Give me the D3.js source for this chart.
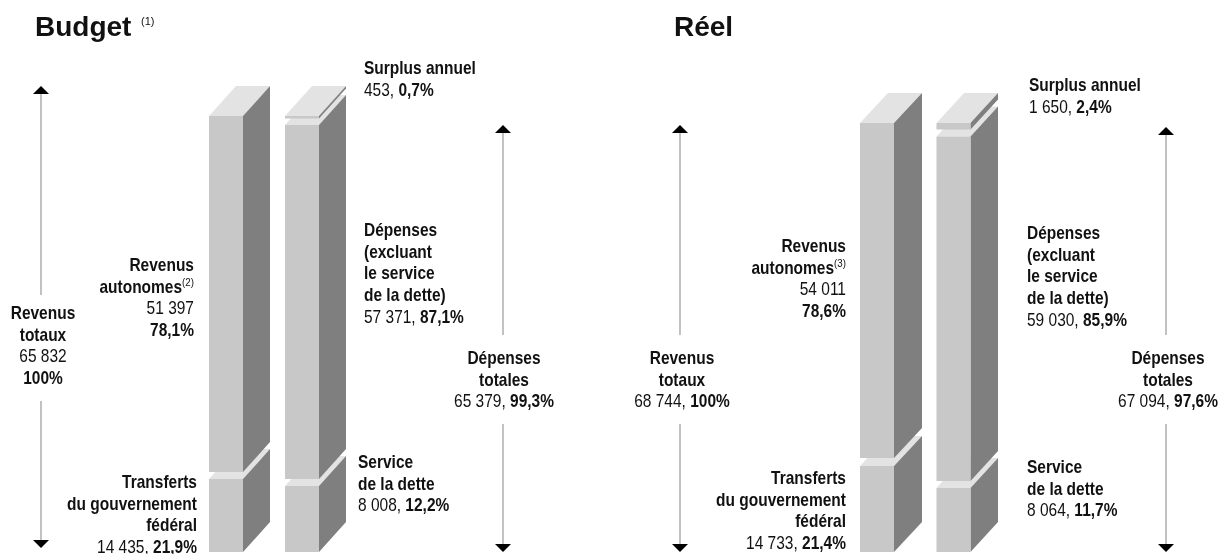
<!DOCTYPE html>
<html><head><meta charset="utf-8">
<style>html,body{margin:0;background:#fff}svg{display:block;filter:blur(0.3px)}text{font-family:"Liberation Sans",Arial,sans-serif;fill:#111}</style>
<script src="https://cdn.jsdelivr.net/npm/d3@7"></script></head><body>
<script>
// ---- data
const panels = ["Budget", "Réel"];
const budgetRevenueValues = [14435, 51397];
const budgetRevenueShares = [21.9, 78.1];
const budgetSpendingValues = [8008, 57371, 453];
const budgetSpendingShares = [12.2, 87.1, 0.7];
const realRevenueValues = [14733, 54011];
const realRevenueShares = [21.4, 78.6];
const realSpendingValues = [8064, 59030, 1650];
const realSpendingShares = [11.7, 85.9, 2.4];
const totals = {budgetRevenue: 65832, budgetSpending: 65379, budgetSpendingShare: 99.3, realRevenue: 68744, realSpending: 67094, realSpendingShare: 97.6};

// ---- layout: the source drawing is not to a common scale, so each block has its own pixel span
const W = 1221, H = 554;
const svg = d3.select("body").append("svg").attr("width", W).attr("height", H);
const colors = {front: "#c8c8c8", side: "#7f7f7f", top: "#e3e3e3"};
const stacks = [
  {x: 209, w: 34, dx: 27, dy: 30, values: budgetRevenueValues, spans: [[552, 479], [472, 116]]},
  {x: 285, w: 34, dx: 27, dy: 30, values: budgetSpendingValues, spans: [[552, 486], [479, 125], [118.5, 116]]},
  {x: 860, w: 34, dx: 28, dy: 30, values: realRevenueValues, spans: [[552, 466], [458, 123]]},
  {x: 936.5, w: 34, dx: 27.5, dy: 30, values: realSpendingValues, spans: [[552, 488], [481, 136.5], [129.5, 123]]}
];
const poly = pts => pts.map(p => p.join(",")).join(" ");
stacks.forEach(s => {
  s.values.forEach((v, i) => {
    const y = d3.scaleLinear().domain([0, v]).range(s.spans[i]);
    const b = y(0), t = y(v), r = s.x + s.w;
    const g = svg.append("g");
    g.append("polygon").attr("points", poly([[s.x, t], [r, t], [r + s.dx, t - s.dy], [s.x + s.dx, t - s.dy]])).attr("fill", colors.top);
    g.append("polygon").attr("points", poly([[r, t], [r + s.dx, t - s.dy], [r + s.dx, b - s.dy], [r, b]])).attr("fill", colors.side);
    g.append("rect").attr("x", s.x).attr("y", t).attr("width", s.w).attr("height", b - t).attr("fill", colors.front);
  });
});

// ---- arrows
const arrows = [
  {x: 41, top: 86, upEnd: 295, downStart: 401, bottom: 548},
  {x: 503, top: 125, upEnd: 335, downStart: 424, bottom: 552},
  {x: 680, top: 125, upEnd: 335, downStart: 424, bottom: 552},
  {x: 1166, top: 127, upEnd: 335, downStart: 424, bottom: 552}
];
arrows.forEach(a => {
  svg.append("path").attr("d", `M${a.x} ${a.top+6}V${a.upEnd}M${a.x} ${a.downStart}V${a.bottom-6}`).attr("stroke", "#999").attr("stroke-width", 1.2).attr("fill", "none");
  svg.append("path").attr("d", `M${a.x-8} ${a.top+8}L${a.x} ${a.top}L${a.x+8} ${a.top+8}Z`).attr("fill", "#000");
  svg.append("path").attr("d", `M${a.x-8} ${a.bottom-8}L${a.x} ${a.bottom}L${a.x+8} ${a.bottom-8}Z`).attr("fill", "#000");
});

// ---- text: the source lettering is tall and slightly condensed
const loc = d3.formatLocale({decimal: ",", thousands: " ", grouping: [3], currency: ["", ""]});
const num = loc.format(",d"), pct = v => loc.format(".1f")(v) + "%";
const FS = 17.5, SX = 0.886, LH = 21.7;
function block(x, y, anchor, lines) {
  const t = svg.append("text").attr("text-anchor", anchor).attr("font-size", FS).attr("transform", `scale(${SX},1)`);
  lines.forEach((l, i) => {
    const parts = Array.isArray(l) ? l : [l];
    parts.forEach((p, j) => {
      const ts = t.append("tspan").text(p.t);
      if (j === 0) ts.attr("x", x / SX).attr("y", y + i * LH);
      ts.attr("font-weight", p.b ? 700 : 400);
      if (p.sup) ts.attr("font-size", 11).attr("dy", -7);
    });
  });
}
const B = t => ({t, b: true}), R = t => ({t, b: false}), S = t => ({t, b: false, sup: true});
const valPct = (v, p) => [R(num(v) + ", "), B(p)];

svg.append("text").attr("x", 35).attr("y", 36).attr("font-size", 28).attr("font-weight", 700).text(panels[0]);
svg.append("text").attr("x", 141).attr("y", 25).attr("font-size", 11).text("(1)");
svg.append("text").attr("x", 674).attr("y", 36).attr("font-size", 28).attr("font-weight", 700).text(panels[1]);

block(364, 74, "start", [B("Surplus annuel"), valPct(budgetSpendingValues[2], pct(budgetSpendingShares[2]))]);
block(364, 236, "start", [B("Dépenses"), B("(excluant"), B("le service"), B("de la dette)"), valPct(budgetSpendingValues[1], pct(budgetSpendingShares[1]))]);
block(358, 468, "start", [B("Service"), B("de la dette"), valPct(budgetSpendingValues[0], pct(budgetSpendingShares[0]))]);
block(194, 271, "end", [B("Revenus"), [B("autonomes"), S("(2)")], R(num(budgetRevenueValues[1])), B(pct(budgetRevenueShares[1]))]);
block(197, 488, "end", [B("Transferts"), B("du gouvernement"), B("fédéral"), valPct(budgetRevenueValues[0], pct(budgetRevenueShares[0]))]);
block(43, 319, "middle", [B("Revenus"), B("totaux"), R(num(totals.budgetRevenue)), B("100%")]);
block(504, 364, "middle", [B("Dépenses"), B("totales"), valPct(totals.budgetSpending, pct(totals.budgetSpendingShare))]);

block(682, 364, "middle", [B("Revenus"), B("totaux"), valPct(totals.realRevenue, "100%")]);
block(1029, 91, "start", [B("Surplus annuel"), valPct(realSpendingValues[2], pct(realSpendingShares[2]))]);
block(1027, 239, "start", [B("Dépenses"), B("(excluant"), B("le service"), B("de la dette)"), valPct(realSpendingValues[1], pct(realSpendingShares[1]))]);
block(1027, 473, "start", [B("Service"), B("de la dette"), valPct(realSpendingValues[0], pct(realSpendingShares[0]))]);
block(846, 252, "end", [B("Revenus"), [B("autonomes"), S("(3)")], R(num(realRevenueValues[1])), B(pct(realRevenueShares[1]))]);
block(846, 484, "end", [B("Transferts"), B("du gouvernement"), B("fédéral"), valPct(realRevenueValues[0], pct(realRevenueShares[0]))]);
block(1168, 364, "middle", [B("Dépenses"), B("totales"), valPct(totals.realSpending, pct(totals.realSpendingShare))]);
</script></body></html>
